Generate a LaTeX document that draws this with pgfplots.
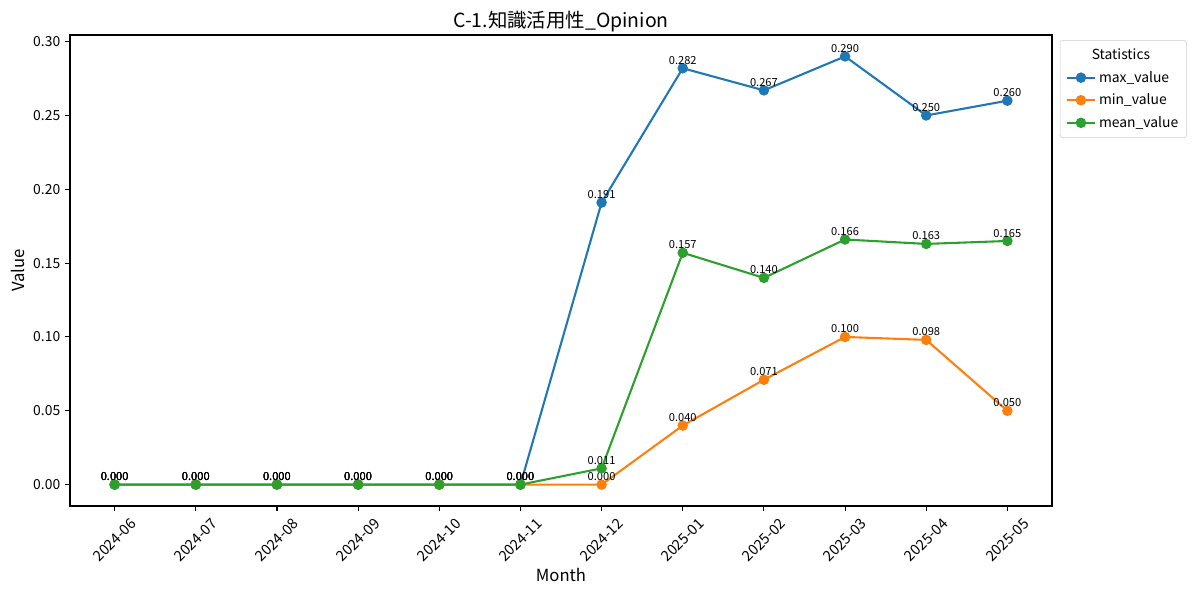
\documentclass[border=0pt]{standalone}
\usepackage{fontspec}
\setmainfont{Noto Sans CJK JP}
\usepackage{pgfplots}
\pgfplotsset{compat=1.18}
\definecolor{tabblue}{HTML}{1F77B4}
\definecolor{taborange}{HTML}{FF7F0E}
\definecolor{tabgreen}{HTML}{2CA02C}
\begin{document}
\begin{tikzpicture}
\useasboundingbox (0,0) rectangle (864pt,428.4pt);
\begin{axis}[
  at={(50.4pt,64.08pt)}, anchor=south west,
  scale only axis, width=707.04pt, height=339.12pt,
  xmin=-0.55, xmax=11.55, ymin=-0.0145, ymax=0.3045,
  xtick={0,...,11},
  xticklabels={2024-06,2024-07,2024-08,2024-09,2024-10,2024-11,2024-12,2025-01,2025-02,2025-03,2025-04,2025-05},
  xticklabel style={yshift=-21pt, rotate=45, anchor=center, font=\fontsize{10.5}{12}\selectfont},
  ytick={0,0.05,0.10,0.15,0.20,0.25,0.30},
  yticklabel style={font=\fontsize{10}{12}\selectfont, /pgf/number format/fixed, /pgf/number format/precision=2, /pgf/number format/fixed zerofill},
  /pgf/number format/assume math mode=true,
  tick align=outside, tick pos=left, major tick length=3.5pt,
  every tick/.style={black, line width=0.8pt},
  axis line style={line width=0.8pt},
  title={C-1.知識活用性\_Opinion},
  title style={at={(axis description cs:0.5,1.011)}, anchor=center, font=\fontsize{14}{16}\selectfont},
  xlabel={Month},
  xlabel style={at={(axis description cs:0.5,-0.1465)}, anchor=center, font=\fontsize{12}{14}\selectfont},
  ylabel={Value},
  ylabel style={at={(axis description cs:-0.053,0.5)}, anchor=center, rotate=0, font=\fontsize{12}{14}\selectfont},
  legend style={at={(axis description cs:1.008,0.989)}, anchor=north west, font=\fontsize{10}{12}\selectfont, draw=black!20, rounded corners=2pt, row sep=2.8pt, inner xsep=4pt, inner ysep=4pt},
  legend cell align=left,
  legend image code/.code={\draw[#1] (0cm,0cm) -- (0.72cm,0cm); \draw[#1, mark repeat=2, mark phase=2] plot coordinates {(0cm,0cm) (0.36cm,0cm) (0.72cm,0cm)};},
  nodes near coords,
  point meta=explicit symbolic,
  every node near coord/.style={font=\fontsize{8}{9}\selectfont, anchor=south, inner sep=0pt, yshift=2pt, black},
  every axis plot/.append style={line width=1.5pt, mark=*, mark size=3pt},
]
\addlegendimage{empty legend}
\addlegendentry{\hspace{-0.72cm}\makebox[2.55cm][c]{Statistics}}
\addplot[tabblue, mark options={fill=tabblue, draw=tabblue}] coordinates {
(0,0)[0.000] (1,0)[0.000] (2,0)[0.000] (3,0)[0.000] (4,0)[0.000] (5,0)[0.000]
(6,0.191)[0.191] (7,0.282)[0.282] (8,0.267)[0.267] (9,0.290)[0.290] (10,0.250)[0.250] (11,0.260)[0.260]};
\addlegendentry{max\_value}
\addplot[taborange, mark options={fill=taborange, draw=taborange}] coordinates {
(0,0)[0.000] (1,0)[0.000] (2,0)[0.000] (3,0)[0.000] (4,0)[0.000] (5,0)[0.000]
(6,0)[0.000] (7,0.040)[0.040] (8,0.071)[0.071] (9,0.100)[0.100] (10,0.098)[0.098] (11,0.050)[0.050]};
\addlegendentry{min\_value}
\addplot[tabgreen, mark options={fill=tabgreen, draw=tabgreen}] coordinates {
(0,0)[0.000] (1,0)[0.000] (2,0)[0.000] (3,0)[0.000] (4,0)[0.000] (5,0)[0.000]
(6,0.011)[0.011] (7,0.157)[0.157] (8,0.140)[0.140] (9,0.166)[0.166] (10,0.163)[0.163] (11,0.165)[0.165]};
\addlegendentry{mean\_value}
\end{axis}
\end{tikzpicture}
\end{document}
